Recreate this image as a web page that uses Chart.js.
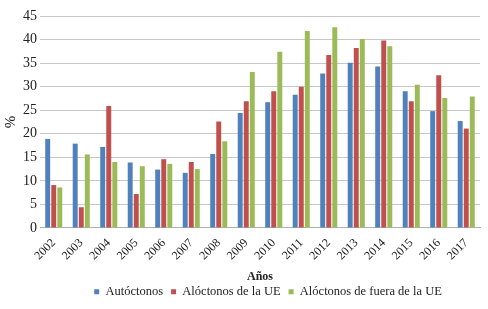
<!DOCTYPE html>
<html>
<head>
<meta charset="utf-8">
<script src="https://cdn.jsdelivr.net/npm/chart.js@4"></script>
<style>
  html, body { margin: 0; padding: 0; background: #fff; }
  #wrap { width: 488px; height: 309px; }
</style>
</head>
<body>
<div id="wrap"><canvas id="chart"></canvas></div>
<script>
const years = ["2002", "2003", "2004", "2005", "2006", "2007", "2008", "2009",
  "2010", "2011", "2012", "2013", "2014", "2015", "2016", "2017"];
const autoctonos = [18.9, 17.9, 17.2, 13.9, 12.4, 11.7, 15.7, 24.4,
  26.7, 28.3, 32.8, 35.1, 34.3, 29.0, 24.8, 22.7];
const aloctonosUE = [9.1, 4.4, 25.9, 7.2, 14.6, 14.0, 22.6, 26.9,
  29.0, 30.0, 36.7, 38.2, 39.8, 26.9, 32.4, 21.1];
const aloctonosFuera = [8.6, 15.6, 14.0, 13.1, 13.6, 12.5, 18.4, 33.1,
  37.4, 41.8, 42.6, 40.1, 38.6, 30.4, 27.6, 27.9];

const serif = "'Liberation Serif', 'DejaVu Serif', serif";
Chart.defaults.font.family = serif;
Chart.defaults.color = "#222";

// the legend in the original sits right of centre and close to the axis title
const shiftLegend = {
  id: "shiftLegend",
  afterLayout(chart) {
    chart.legend.left += 27;
    chart.legend.right += 27;
    chart.legend.top -= 7;
    chart.legend.bottom -= 7;
  },
};

const ctx = document.getElementById("chart").getContext("2d");

new Chart(ctx, {
  type: "bar",
  data: {
    labels: years,
    datasets: [
      { label: "Autóctonos", data: autoctonos, backgroundColor: "#4F81BD" },
      { label: "Alóctonos de la UE", data: aloctonosUE, backgroundColor: "#C0504D" },
      { label: "Alóctonos de fuera de la UE", data: aloctonosFuera, backgroundColor: "#9BBB59" },
    ],
  },
  plugins: [shiftLegend],
  options: {
    responsive: true,
    maintainAspectRatio: false,
    animation: false,
    layout: { padding: { top: 16, right: 8, left: 2, bottom: -6 } },
    datasets: {
      bar: { categoryPercentage: 0.66, barPercentage: 0.82 },
    },
    plugins: {
      legend: {
        position: "bottom",
        labels: {
          usePointStyle: true,
          pointStyle: "rect",
          boxWidth: 5,
          boxHeight: 5,
          padding: 8,
          font: { size: 12.5 },
        },
      },
      tooltip: { enabled: false },
    },
    scales: {
      x: {
        grid: { display: false },
        border: { color: "#b0b0b0" },
        ticks: {
          minRotation: 45,
          maxRotation: 45,
          padding: 0,
          font: { size: 12 },
        },
        title: {
          display: true,
          text: "Años",
          font: { size: 12, weight: "bold" },
          padding: { top: 7, bottom: 0 },
        },
      },
      y: {
        min: 0,
        max: 45,
        ticks: { stepSize: 5, font: { size: 14 }, padding: 3 },
        grid: { color: "#c8c8c8", drawTicks: false },
        border: { display: false },
        title: {
          display: true,
          text: "%",
          font: { size: 15 },
          padding: { top: 0, bottom: 0 },
        },
      },
    },
  },
});
</script>
</body>
</html>
